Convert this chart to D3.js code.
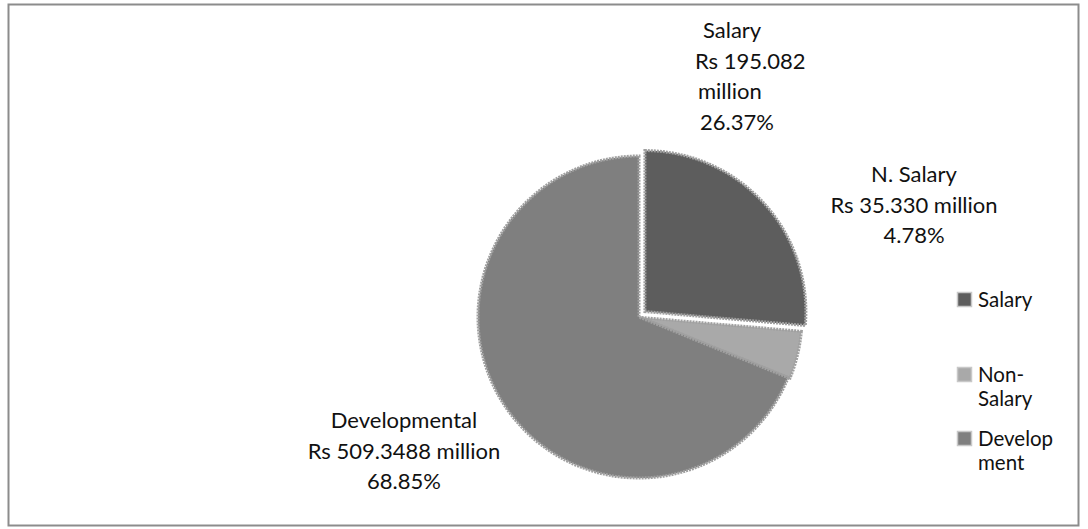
<!DOCTYPE html>
<html><head><meta charset="utf-8">
<script src="https://cdn.jsdelivr.net/npm/d3@7"></script>
<style>body{margin:0;background:#fff}svg{display:block}text{font-family:Lato,"Open Sans",sans-serif;fill:#111}</style>
</head><body>
<svg id="c" width="1088" height="529"></svg>
<script>
const categories = ["Salary", "Non-Salary", "Developmental"];
const values = [195.082, 35.330, 509.3488];
const percents = ["26.37%", "4.78%", "68.85%"];
const labelNames = ["Salary", "N. Salary", "Developmental"];
const legendLines = [["Salary"], ["Non-", "Salary"], ["Develop", "ment"]];
const colors = ["#5d5d5d", "#a9a9a9", "#7f7f7f"];

const svg = d3.select("#c");
svg.append("rect").attr("x", 8.5).attr("y", 4.5).attr("width", 1070).attr("height", 521)
  .attr("fill", "#fff").attr("stroke", "#8c8c8c").attr("stroke-width", 2);

const cx = 639, cy = 317, r = 161;
const pie = d3.pie().sort(null).value(d => d)(values);
const arc = d3.arc().innerRadius(0).outerRadius(r);
const g = svg.append("g").attr("transform", `translate(${cx},${cy})`);
const explode = [8, 2, 0];
g.selectAll("path").data(pie).join("path")
  .attr("transform", (d, i) => {
    const a = (d.startAngle + d.endAngle) / 2;
    return `translate(${Math.sin(a) * explode[i]},${-Math.cos(a) * explode[i]})`;
  })
  .attr("d", arc).attr("fill", (d, i) => colors[i])
  .attr("stroke", "#a0a0a0").attr("stroke-width", 3).attr("stroke-dasharray", "2 1");

// data labels
const labelLayout = [
  {x: 703, y: 38, anchor: "start", offs: [0, -8, -5, -3]},
  {x: 914, y: 182, anchor: "middle", offs: [0, 0, 0]},
  {x: 404, y: 428, anchor: "middle", offs: [0, 0, 0]}
];
categories.forEach((c, i) => {
  const L = labelLayout[i];
  let lines;
  if (i === 0) lines = [labelNames[i], "Rs " + values[i].toFixed(3), "million", percents[i]];
  else if (i === 1) lines = [labelNames[i], "Rs " + values[i].toFixed(3) + " million", percents[i]];
  else lines = [labelNames[i], "Rs " + values[i] + " million", percents[i]];
  const t = svg.append("text").attr("text-anchor", L.anchor).style("font-size", "22px");
  lines.forEach((s, k) => t.append("tspan").attr("x", L.x + (L.offs[k] || 0)).attr("y", L.y + k * 30.5).text(s));
});

// legend
const legY = [307, 382, 446];
legendLines.forEach((ls, i) => {
  svg.append("rect").attr("x", 957.5).attr("y", legY[i] - 14.5).attr("width", 14).attr("height", 14)
    .attr("fill", colors[i]).attr("stroke", "#c8c8c8").attr("stroke-width", 1.5);
  const t = svg.append("text").style("font-size", "20.5px");
  ls.forEach((s, k) => t.append("tspan").attr("x", 978).attr("y", legY[i] + k * 23.5).text(s));
});
</script>
</body></html>
